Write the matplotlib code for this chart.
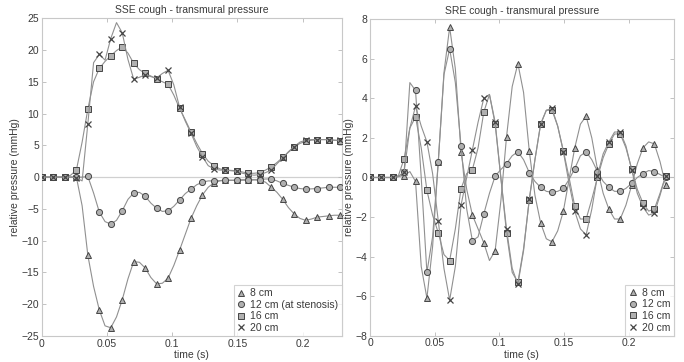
import numpy as np
import matplotlib
matplotlib.use("Agg")
import matplotlib.pyplot as plt
from matplotlib.lines import Line2D

plt.rcParams['font.family'] = ['Liberation Sans', 'DejaVu Sans']

# time axis: samples every 0.0044 s, markers on every second sample
dt = 0.0044
n_samples = 53

# ---------------- SSE cough (left) ----------------
sse_8cm = [0, 0, 0, 0, 0, 0, 0, -4.5, -12.3, -17.2, -20.9, -23.4, -23.7, -22.0, -19.3, -16.0,
           -13.3, -13.4, -14.3, -15.8, -16.8, -16.7, -15.9, -13.9, -11.5, -9.0, -6.5, -4.5,
           -2.8, -1.6, -0.9, -0.6, -0.5, -0.5, -0.5, -0.4, -0.4, -0.4, -0.5, -0.8, -1.6,
           -2.4, -3.5, -4.8, -5.8, -6.5, -6.8, -6.6, -6.3, -6.2, -6.1, -6.0, -6.0]
sse_12cm = [0, 0, 0, 0, 0, 0, 0, 0, 0.1, -2.5, -5.5, -7.0, -7.4, -6.8, -5.3, -3.5,
            -2.5, -2.4, -3.0, -4.1, -4.9, -5.4, -5.3, -4.6, -3.6, -2.6, -1.9, -1.2,
            -0.8, -0.6, -0.6, -0.55, -0.5, -0.5, -0.5, -0.5, -0.5, -0.45, -0.4, -0.3, -0.3,
            -0.6, -1.0, -1.3, -1.6, -1.8, -1.9, -1.85, -1.8, -1.7, -1.6, -1.6, -1.6]
sse_16cm = [0, 0, 0, 0, 0, 0.3, 1.1, 5.5, 10.7, 15.0, 17.1, 18.2, 19.1, 19.9, 20.5, 19.5,
            17.9, 16.9, 16.3, 15.9, 15.4, 15.0, 14.6, 12.9, 10.8, 9.0, 7.1, 5.3,
            3.7, 2.5, 1.8, 1.3, 1.1, 1.05, 1.0, 0.8, 0.6, 0.6, 0.7, 1.1, 1.6,
            2.3, 3.1, 3.9, 4.7, 5.3, 5.6, 5.8, 5.9, 5.9, 5.9, 5.8, 5.7]
sse_20cm = [0, 0, 0, 0, 0, 0, -0.1, -0.6, 8.4, 18.0, 19.3, 18.4, 21.8, 24.3, 22.7, 18.5,
            15.4, 15.7, 16.1, 15.8, 15.6, 16.3, 16.8, 14.5, 11.0, 8.8, 6.9, 4.8,
            3.2, 1.8, 1.3, 1.1, 1.1, 1.0, 0.9, 0.6, 0.4, 0.3, 0.4, 0.7, 1.1,
            2.1, 3.0, 4.0, 4.8, 5.5, 5.8, 5.9, 5.9, 5.9, 5.9, 5.8, 5.8]

# ---------------- SRE cough (right) ----------------
sre_8cm = [0, 0, 0, 0, 0, 0.05, 0.1, 0.3, -0.2, -4.5, -6.1, -3.5, 0.8, 5.3, 7.6, 5.5,
           1.3, -0.6, -1.9, -2.6, -3.3, -4.2, -3.7, -1.2, 2.05, 4.6, 5.76, 4.3,
           1.35, -0.9, -2.3, -3.1, -3.25, -2.7, -1.7, -0.1, 1.5, 2.7, 3.1, 2.0, 0.4,
           -0.8, -1.6, -2.1, -2.1, -1.4, -0.4, 0.7, 1.5, 1.8, 1.7, 0.8, -0.4]
sre_12cm = [0, 0, 0, 0, 0, 0.05, 0.3, 4.8, 4.4, 0.0, -4.8, -3.0, 0.8, 5.2, 6.5, 4.8,
            1.6, -1.6, -3.2, -3.0, -1.85, -0.8, 0.07, 0.4, 0.7, 1.1, 1.3, 0.9,
            0.25, -0.2, -0.5, -0.7, -0.75, -0.7, -0.55, -0.1, 0.45, 1.1, 1.3, 0.9, 0.3,
            -0.2, -0.5, -0.7, -0.7, -0.55, -0.3, 0.0, 0.2, 0.35, 0.3, 0.15, 0.0]
sre_16cm = [0, 0, 0, 0, 0, 0.1, 0.96, 2.5, 3.06, 1.5, -0.65, -1.9, -2.8, -3.9, -4.2, -2.6,
            -0.56, 0.2, 0.4, 1.5, 3.3, 4.2, 2.7, 0.0, -2.8, -4.8, -5.3, -3.6,
            -1.15, 0.9, 2.7, 3.4, 3.4, 2.6, 1.35, 0.0, -1.45, -2.1, -2.1, -1.1, 0.0,
            1.0, 1.7, 2.2, 2.2, 1.5, 0.45, -0.6, -1.3, -1.7, -1.6, -0.8, 0.1]
sre_20cm = [0, 0, 0, 0, 0, 0.05, 0.3, 2.5, 3.6, 2.6, 1.8, 0.2, -2.2, -4.6, -6.2, -4.5,
            -1.4, 0.0, 1.4, 2.8, 4.0, 4.2, 2.8, 0.0, -2.6, -4.6, -5.4, -3.7,
            -1.1, 0.9, 2.7, 3.4, 3.5, 2.6, 1.3, -0.3, -1.7, -2.6, -2.9, -1.6, 0.1,
            1.2, 1.8, 2.3, 2.3, 1.6, 0.4, -0.8, -1.5, -1.9, -1.8, -0.9, 0.1]

labels_left = ['8 cm', '12 cm (at stenosis)', '16 cm', '20 cm']
labels_right = ['8 cm', '12 cm', '16 cm', '20 cm']
markers = ['^', 'o', 's', 'x']

t = np.arange(n_samples) * dt

fig = plt.figure(figsize=(6.84, 3.62), dpi=100)
axL = fig.add_axes([0.0614, 0.0718, 0.438, 0.878])
axR = fig.add_axes([0.541, 0.0727, 0.444, 0.874])

line_col = '#909090'
face_col = '#b0b0b0'
edge_col = '#454545'
frame_col = '#c8c8c8'
text_col = '#3a3a3a'

msize = {'^': 4.8, 'o': 4.4, 's': 4.0, 'x': 3.8}


def draw(ax, series, labels, xmax, ylim, yticks, title):
    ax.axhline(0, color='#d0d0d0', lw=0.9, zorder=1)
    for s, m in zip(series, markers):
        kw = dict(marker=m, markevery=2, color=line_col, lw=0.8,
                  markeredgecolor=edge_col, markeredgewidth=0.7,
                  markersize=msize[m], zorder=3)
        if m == 'x':
            kw.update(markeredgewidth=0.9)
        else:
            kw.update(markerfacecolor=face_col)
        ax.plot(t, s, **kw)
    ax.set_xlim(0, xmax)
    ax.set_ylim(*ylim)
    ax.set_yticks(yticks)
    ax.set_xticks([0, 0.05, 0.1, 0.15, 0.2])
    ax.set_xticklabels(['0', '0.05', '0.1', '0.15', '0.2'])
    ax.tick_params(direction='in', length=3, width=0.6, color='#b8b8b8',
                   labelsize=7.5, labelcolor=text_col, top=True, right=True, pad=2)
    for sp in ax.spines.values():
        sp.set_color(frame_col)
        sp.set_linewidth(0.8)
    ax.set_title(title, fontsize=7.5, color=text_col, pad=4)
    ax.set_xlabel('time (s)', fontsize=7.5, color=text_col, labelpad=1)
    ax.set_ylabel('relative pressure (mmHg)', fontsize=7.5, color=text_col, labelpad=1)
    handles = []
    for m, lab in zip(markers, labels):
        if m == 'x':
            h = Line2D([], [], ls='none', marker=m, color=edge_col,
                       markersize=msize[m], markeredgewidth=0.9)
        else:
            h = Line2D([], [], ls='none', marker=m, markerfacecolor=face_col,
                       markeredgecolor=edge_col, markersize=msize[m], markeredgewidth=0.7)
        handles.append(h)
    leg = ax.legend(handles, labels, loc='lower right', fontsize=7.5, frameon=True,
                    fancybox=False, borderpad=0.3, labelspacing=0.15, handlelength=0.9,
                    handletextpad=0.4, borderaxespad=0.0)
    leg.get_frame().set_edgecolor(frame_col)
    leg.get_frame().set_linewidth(0.8)
    for txt in leg.get_texts():
        txt.set_color(text_col)


draw(axL, [sse_8cm, sse_12cm, sse_16cm, sse_20cm], labels_left, 0.23, (-25, 25),
     np.arange(-25, 26, 5), 'SSE cough - transmural pressure')
draw(axR, [sre_8cm, sre_12cm, sre_16cm, sre_20cm], labels_right, 0.235, (-8, 8),
     np.arange(-8, 9, 2), 'SRE cough - transmural pressure')

fig.savefig('out.png', dpi=100)
